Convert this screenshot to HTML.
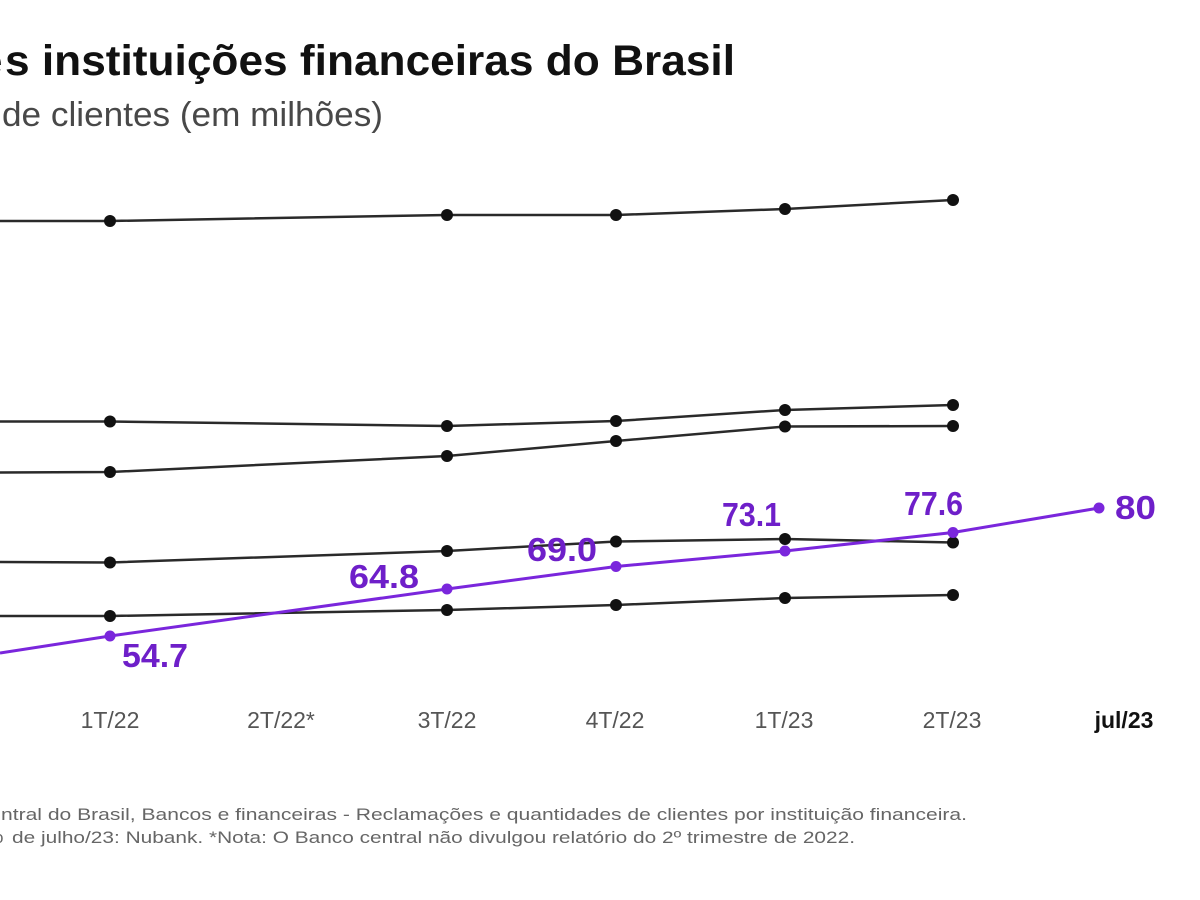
<!DOCTYPE html>
<html>
<head>
<meta charset="utf-8">
<style>
  html,body{margin:0;padding:0;background:#fff;}
  body{width:1200px;height:900px;overflow:hidden;}
  svg{display:block;}
  .t{font-family:"Liberation Sans",sans-serif;}
</style>
</head>
<body>
<svg width="1200" height="900" viewBox="0 0 1200 900" xmlns="http://www.w3.org/2000/svg">
  <rect width="1200" height="900" fill="#ffffff"/>

  <!-- Title -->
  <text class="t" x="-21" y="75" font-size="42" font-weight="bold" fill="#111">e</text>
  <text class="t" x="5" y="75" font-size="43" font-weight="bold" fill="#111" textLength="730" lengthAdjust="spacingAndGlyphs">s instituições financeiras do Brasil</text>

  <!-- Subtitle -->
  <text class="t" x="2" y="126" font-size="34" fill="#484848" textLength="381" lengthAdjust="spacingAndGlyphs">de clientes (em milhões)</text>

  <!-- Black series -->
  <g fill="none" stroke="#2a2a2a" stroke-width="2.5" stroke-linejoin="round">
    <polyline points="0,221 110,221 447,215 616,215 785,209 953,200"/>
    <polyline points="0,421.5 110,421.5 447,426 616,421 785,410 953,405"/>
    <polyline points="0,472.5 110,472 447,456 616,441 785,426.5 953,426"/>
    <polyline points="0,562 110,562.5 447,551 616,541.5 785,539 953,542.5"/>
    <polyline points="0,616 110,616 447,610 616,605 785,598 953,595"/>
  </g>
  <g fill="#111">
    <circle cx="110" cy="221" r="6"/><circle cx="447" cy="215" r="6"/><circle cx="616" cy="215" r="6"/><circle cx="785" cy="209" r="6"/><circle cx="953" cy="200" r="6"/>
    <circle cx="110" cy="421.5" r="6"/><circle cx="447" cy="426" r="6"/><circle cx="616" cy="421" r="6"/><circle cx="785" cy="410" r="6"/><circle cx="953" cy="405" r="6"/>
    <circle cx="110" cy="472" r="6"/><circle cx="447" cy="456" r="6"/><circle cx="616" cy="441" r="6"/><circle cx="785" cy="426.5" r="6"/><circle cx="953" cy="426" r="6"/>
    <circle cx="110" cy="562.5" r="6"/><circle cx="447" cy="551" r="6"/><circle cx="616" cy="541.5" r="6"/><circle cx="785" cy="539" r="6"/><circle cx="953" cy="542.5" r="6"/>
    <circle cx="110" cy="616" r="6"/><circle cx="447" cy="610" r="6"/><circle cx="616" cy="605" r="6"/><circle cx="785" cy="598" r="6"/><circle cx="953" cy="595" r="6"/>
  </g>

  <!-- Purple series -->
  <polyline points="0,653 110,636 447,589 616,566.5 785,551 953,532.5 1099,508" fill="none" stroke="#7a26dc" stroke-width="3" stroke-linejoin="round"/>
  <g fill="#7a26dc">
    <circle cx="110" cy="636" r="5.5"/><circle cx="447" cy="589" r="5.5"/><circle cx="616" cy="566.5" r="5.5"/><circle cx="785" cy="551" r="5.5"/><circle cx="953" cy="532.5" r="5.5"/><circle cx="1099" cy="508" r="5.5"/>
  </g>
  <g class="t" font-size="33" font-weight="bold" fill="#6e1fc9">
    <text x="122" y="667" textLength="66" lengthAdjust="spacingAndGlyphs">54.7</text>
    <text x="349" y="588" textLength="70" lengthAdjust="spacingAndGlyphs">64.8</text>
    <text x="527" y="561" textLength="70" lengthAdjust="spacingAndGlyphs">69.0</text>
    <text x="722" y="526" textLength="59" lengthAdjust="spacingAndGlyphs">73.1</text>
    <text x="904" y="515" textLength="59" lengthAdjust="spacingAndGlyphs">77.6</text>
    <text x="1115" y="519" textLength="41" lengthAdjust="spacingAndGlyphs">80</text>
  </g>

  <!-- X axis labels -->
  <g class="t" font-size="23" fill="#555" text-anchor="middle">
    <text x="110" y="728">1T/22</text>
    <text x="281" y="728">2T/22*</text>
    <text x="447" y="728">3T/22</text>
    <text x="615" y="728">4T/22</text>
    <text x="784" y="728">1T/23</text>
    <text x="952" y="728">2T/23</text>
  </g>
  <text class="t" x="1124" y="728" font-size="23" font-weight="bold" fill="#111" text-anchor="middle">jul/23</text>

  <!-- Footer -->
  <g class="t" font-size="17" fill="#666">
    <text x="1" y="820" textLength="966" lengthAdjust="spacingAndGlyphs">ntral do Brasil, Bancos e financeiras - Reclamações e quantidades de clientes por instituição financeira.</text>
    <text x="-6" y="843">o</text>
    <text x="12" y="843" textLength="843" lengthAdjust="spacingAndGlyphs">de julho/23: Nubank. *Nota: O Banco central não divulgou relatório do 2º trimestre de 2022.</text>
  </g>
</svg>
</body>
</html>
